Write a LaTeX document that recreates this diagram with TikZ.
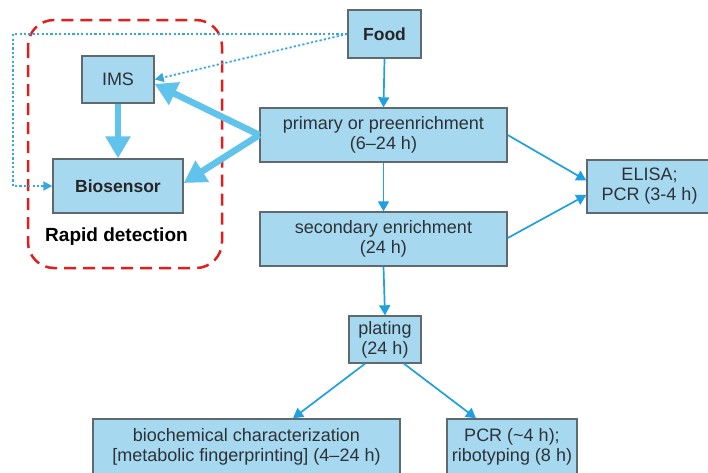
\documentclass[tikz,border=0pt]{standalone}
\usepackage{fontspec}
\setmainfont{Liberation Sans}
\usetikzlibrary{arrows.meta}
\definecolor{boxfill}{RGB}{166,216,240}
\definecolor{boxline}{RGB}{95,105,110}
\definecolor{boxtext}{RGB}{45,50,55}
\definecolor{thinblue}{RGB}{30,160,225}
\definecolor{thickblue}{RGB}{95,195,235}
\definecolor{dotblue}{RGB}{55,168,222}
\definecolor{rapidred}{RGB}{225,30,30}
\tikzset{
  flowbox/.style={draw=boxline, line width=1.4pt, fill=boxfill, inner sep=0pt,
    align=center, text=boxtext, font=\fontsize{18}{20}\selectfont},
  boldbox/.style={flowbox, text=black!85, font=\fontsize{17.5}{20}\selectfont\bfseries},
  thinarrow/.style={draw=thinblue, line width=1.7pt, -{Triangle[length=10pt,width=11pt]}},
  thickarrow/.style={draw=thickblue, line width=6.5pt, -{Triangle[length=22pt,width=24pt]}},
  dotarrow/.style={draw=dotblue, line width=1.8pt, dash pattern=on 2.2pt off 2.2pt, -{Triangle[length=9pt,width=9pt]}},
  rapidframe/.style={draw=rapidred, line width=2.5pt, dash pattern=on 12pt off 7pt, rounded corners=26pt}
}
\begin{document}
\begin{tikzpicture}[x=1pt,y=-1pt]
\useasboundingbox (0,0) rectangle (708,472);
\clip (0,0) rectangle (708,472);
\fill[white] (0,0) rectangle (708,472);

% red dashed frame
\draw[rapidframe] (28,20) rectangle (222,268);

% nodes
\node[boldbox, minimum width=73pt, minimum height=48pt] (food) at (384.5,34) {Food};
\node[flowbox, minimum width=72pt, minimum height=47pt] (ims) at (118,79.5) {IMS};
\node[boldbox, minimum width=130pt, minimum height=54pt] (bs) at (118,186) {Biosensor};
\node[flowbox, minimum width=247pt, minimum height=54pt] (prim) at (383.5,135) {primary or preenrichment\\(6–24 h)};
\node[flowbox, minimum width=247pt, minimum height=54pt] (sec) at (383.5,239) {secondary enrichment\\(24 h)};
\node[flowbox, minimum width=125pt, minimum height=53pt] (elisa) at (649.5,186.5) {ELISA;\\PCR (3-4 h)};
\node[flowbox, minimum width=72pt, minimum height=47pt] (plat) at (385,339.5) {plating\\(24 h)};
\node[flowbox, minimum width=307pt, minimum height=56pt] (bio) at (246.5,447) {biochemical characterization\\{[}metabolic fingerprinting{]} (4–24 h)};
\node[flowbox, minimum width=130pt, minimum height=56pt] (pcr) at (512,447) {PCR (\textasciitilde4 h);\\ribotyping (8 h)};
\node[font=\fontsize{19}{21}\selectfont\bfseries, text=black] (rapid) at (116.5,237) {Rapid detection};

% dotted connectors from Food
\coordinate (dl) at (13,34);
\draw[dotarrow] (food.west) -- (dl) |- (bs.west);
\draw[dotarrow] (food.west) -- (ims.east);

% thick arrows
\draw[thickarrow] (ims.south) -- (bs.north);
\draw[thickarrow] (prim.west) -- ([yshift=-4.5pt]ims.east);
\draw[thickarrow] (prim.west) -- ([yshift=3pt]bs.east);

% thin arrows
\draw[thinarrow] (food.south) -- (prim.north);
\draw[thinarrow] (prim.south) -- (sec.north);
\draw[thinarrow] (sec.south) -- (plat.north);
\draw[thinarrow] (prim.east) -- ([yshift=6pt]elisa.west);
\draw[thinarrow] ([yshift=1pt]sec.east) -- ([yshift=-8.5pt]elisa.west);
\draw[thinarrow] ([xshift=-20pt]plat.south) -- ([xshift=46.5pt]bio.north);
\draw[thinarrow] ([xshift=19pt]plat.south) -- ([xshift=-36pt]pcr.north);
\end{tikzpicture}
\end{document}
